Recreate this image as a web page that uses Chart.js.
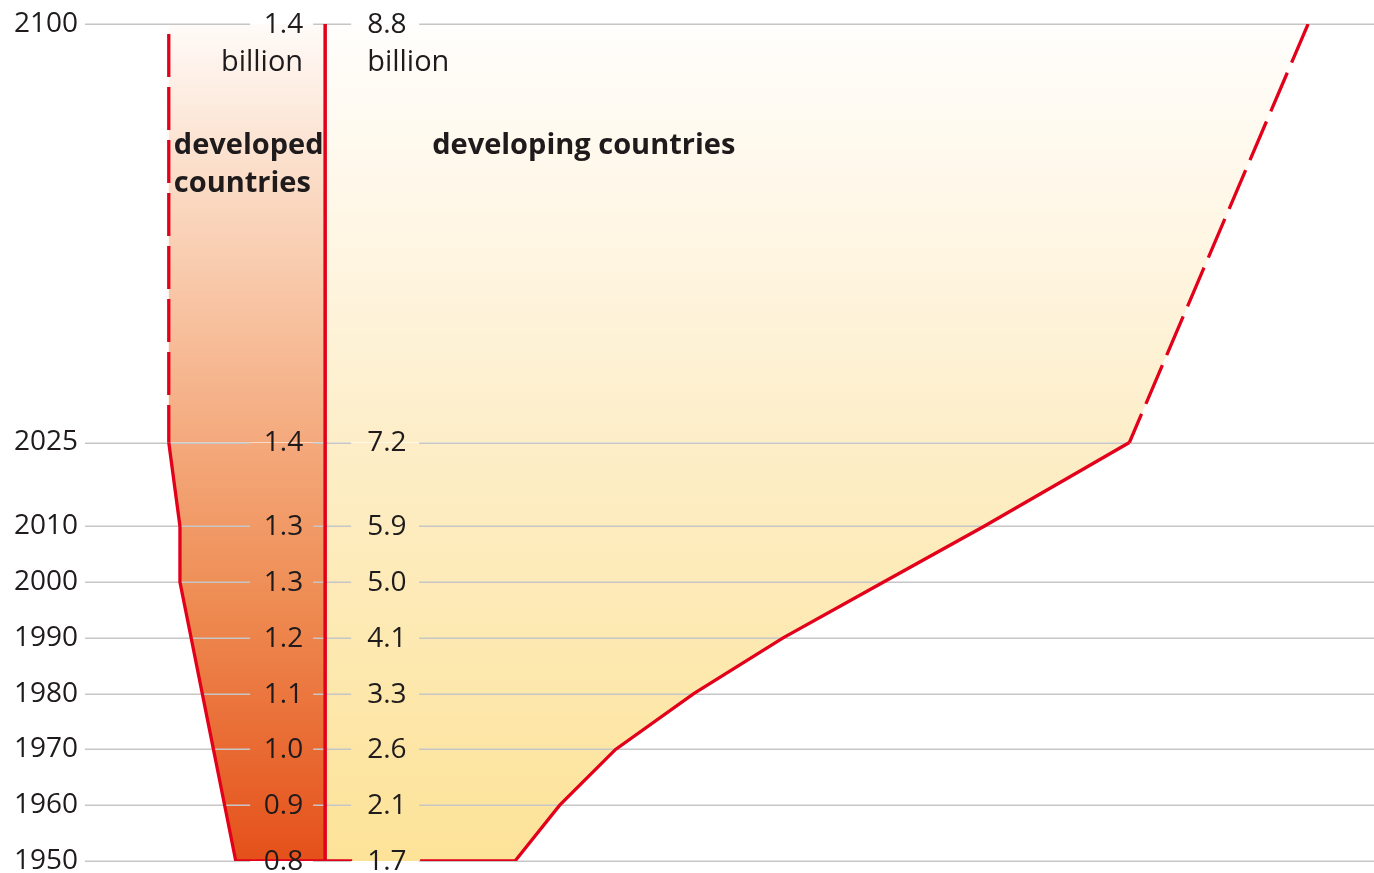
<!DOCTYPE html>
<html>
<head>
<meta charset="utf-8">
<script src="https://cdn.jsdelivr.net/npm/chart.js@4/dist/chart.umd.min.js"></script>
<style>
  html, body { margin: 0; padding: 0; background: #ffffff; }
  #wrap { width: 1374px; height: 873px; }
  canvas { display: block; }
</style>
</head>
<body>
<div id="wrap"><canvas id="c" width="1374" height="873"></canvas></div>
<script>
// ---- data ----
const years = [1950, 1960, 1970, 1980, 1990, 2000, 2010, 2025, 2100];
const yearLabels = ['1950', '1960', '1970', '1980', '1990', '2000', '2010', '2025', '2100'];
const developed = [0.8, 0.9, 1.0, 1.1, 1.2, 1.3, 1.3, 1.4, 1.4];
const developing = [1.7, 2.1, 2.6, 3.3, 4.1, 5.0, 5.9, 7.2, 8.8];
const developedLabels = ['0.8', '0.9', '1.0', '1.1', '1.2', '1.3', '1.3', '1.4', '1.4'];
const developingLabels = ['1.7', '2.1', '2.6', '3.3', '4.1', '5.0', '5.9', '7.2', '8.8'];
const unitLabel = 'billion';
const developedTitle = ['developed', 'countries'];
const developingTitle = ['developing countries'];

// ---- style ----
const RED = '#e2001a';
const TEXT = '#1f1b1c';
const GRID = '#c6c6c6';
const FONT = '"Open Sans", "Noto Sans", sans-serif';
const SOLID = [2000, 0];

// points ordered from 2100 down to 1950, closed on the centre axis
const devPts = years.map((y, i) => ({ x: -developed[i], y })).reverse();
devPts.push({ x: 0, y: years[0] });
const dvgPts = years.map((y, i) => ({ x: developing[i], y })).reverse();
dvgPts.push({ x: 0, y: years[0] });
const axisPts = [{ x: 0, y: years[years.length - 1] }, { x: 0, y: years[0] }];

function gradient(ctx, stops) {
  const chart = ctx.chart;
  const a = chart.chartArea;
  if (!a) return 'rgba(0,0,0,0)';
  const g = chart.ctx.createLinearGradient(0, a.top, 0, a.bottom);
  stops.forEach(s => g.addColorStop(s[0], s[1]));
  return g;
}

const gridPlugin = {
  id: 'splitGrid',
  beforeDatasetsDraw(chart) {
    const { ctx, chartArea: a } = chart;
    const xs = chart.scales.x, ys = chart.scales.y;
    const x0 = xs.getPixelForValue(0);
    ctx.save();
    ctx.strokeStyle = GRID;
    ctx.lineWidth = 1.5;
    years.forEach(yr => {
      const y = Math.round(ys.getPixelForValue(yr)) + 0.25;
      const segs = [[a.left, x0 - 75], [x0 - 12, x0 + 26], [x0 + 94, a.right]];
      segs.forEach(s => {
        ctx.beginPath();
        ctx.moveTo(s[0], y);
        ctx.lineTo(s[1], y);
        ctx.stroke();
      });
    });
    ctx.restore();
  },
  afterDatasetsDraw(chart) {
    const { ctx, chartArea: a } = chart;
    const xs = chart.scales.x, ys = chart.scales.y;
    const x0 = xs.getPixelForValue(0);
    ctx.save();
    ctx.fillStyle = TEXT;
    ctx.font = '28px ' + FONT;
    ctx.textBaseline = 'middle';
    years.forEach((yr, i) => {
      const y = ys.getPixelForValue(yr) + 1;
      ctx.textAlign = 'right';
      ctx.fillText(developedLabels[i], x0 - 22, y);
      ctx.textAlign = 'left';
      ctx.fillText(developingLabels[i], x0 + 42, y);
    });
    const yTop = ys.getPixelForValue(years[years.length - 1]) + 1;
    ctx.font = '29px ' + FONT;
    ctx.textAlign = 'right';
    ctx.fillText(unitLabel, x0 - 22, yTop + 38);
    ctx.textAlign = 'left';
    ctx.fillText(unitLabel, x0 + 42, yTop + 38);

    ctx.font = 'bold 29px ' + FONT;
    ctx.textAlign = 'left';
    const xDev = xs.getPixelForValue(-developed[developed.length - 1]) + 5;
    developedTitle.forEach((t, k) => ctx.fillText(t, xDev, a.top + 122 + k * 38));
    developingTitle.forEach((t, k) => ctx.fillText(t, x0 + 107, a.top + 122 + k * 38));
    ctx.restore();
  }
};

function build() {
  const lastDvg = dvgPts.length - 1;
  new Chart(document.getElementById('c'), {
    type: 'line',
    data: {
      datasets: [
        {
          label: 'centre',
          data: axisPts,
          borderColor: RED,
          borderWidth: 3.5,
          pointRadius: 0,
          fill: false
        },
        {
          label: 'developed countries',
          data: devPts,
          borderColor: RED,
          borderWidth: 3.3,
          borderDash: SOLID,
          pointRadius: 0,
          fill: 'origin',
          backgroundColor: ctx => gradient(ctx, [
            [0, '#fffbf8'], [0.21, '#fad8c0'], [0.5, '#f4a97c'], [0.69, '#ee8c53'], [1, '#e5501a']
          ]),
          segment: {
            borderDash: ctx => ctx.p0DataIndex === 0 ? [43, 10] : undefined,
            borderDashOffset: ctx => ctx.p0DataIndex === 0 ? 43 : undefined
          }
        },
        {
          label: 'developing countries',
          data: dvgPts,
          borderColor: RED,
          borderWidth: 3.3,
          borderDash: SOLID,
          pointRadius: 0,
          fill: 'origin',
          backgroundColor: ctx => gradient(ctx, [
            [0, '#fffefc'], [0.25, '#fff6e4'], [0.5, '#fdeec8'], [1, '#fde398']
          ]),
          segment: {
            borderDash: ctx => {
              if (ctx.p0DataIndex === 0) return [42, 11];
              if (ctx.p1DataIndex === lastDvg) {
                const len = Math.abs(ctx.p0.x - ctx.p1.x);
                return [Math.max(len - 95, 0), 68, 2000];
              }
              return undefined;
            }
          }
        }
      ]
    },
    options: {
      indexAxis: 'y',
      responsive: false,
      animation: false,
      devicePixelRatio: 1,
      layout: { autoPadding: false, padding: { top: 24, bottom: 12, left: 0, right: 0 } },
      plugins: {
        legend: { display: false },
        tooltip: { enabled: false },
        filler: { drawTime: 'beforeDraw' }
      },
      elements: { line: { tension: 0, borderJoinStyle: 'miter' } },
      scales: {
        x: {
          type: 'linear',
          min: -2.15,
          max: 9.39,
          display: false
        },
        y: {
          type: 'linear',
          min: years[0],
          max: years[years.length - 1],
          grid: { display: false, drawTicks: false },
          border: { display: false },
          afterBuildTicks: s => { s.ticks = years.map(v => ({ value: v })); },
          afterFit: s => { s.width = 85; s.paddingTop = 0; s.paddingBottom = 0; },
          ticks: {
            padding: 7,
            color: TEXT,
            font: { family: FONT, size: 28 },
            callback: v => yearLabels[years.indexOf(v)]
          }
        }
      }
    },
    plugins: [gridPlugin]
  });
}

if (document.fonts && document.fonts.load) {
  Promise.all([
    document.fonts.load('28px "Open Sans"'),
    document.fonts.load('bold 29px "Open Sans"')
  ]).then(build, build);
} else {
  build();
}
</script>
</body>
</html>
